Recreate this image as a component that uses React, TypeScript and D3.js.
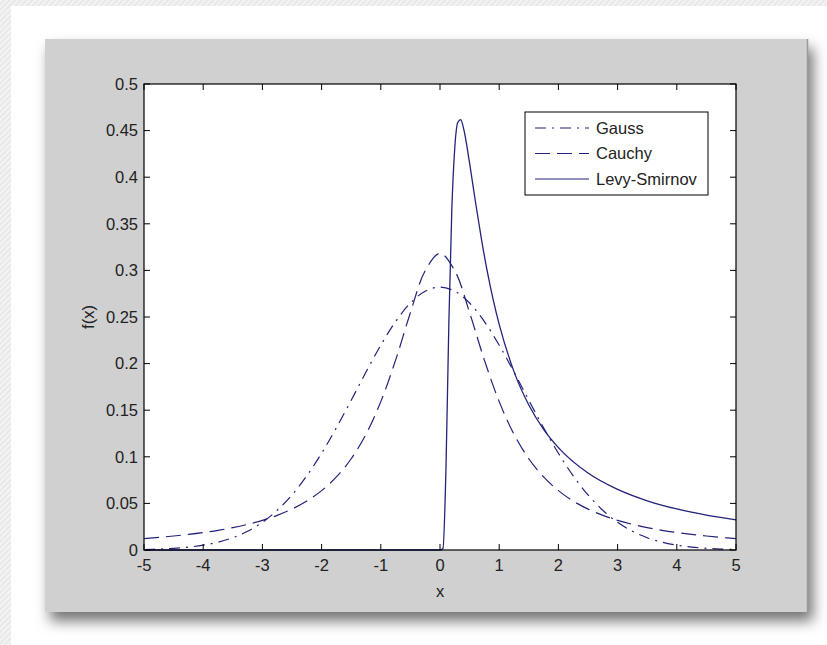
import React, { useEffect, useRef } from 'react';
import * as d3 from 'd3';

// x grid for the Gauss and Cauchy curves
const xGrid = [-5, -4.75, -4.5, -4.25, -4, -3.75, -3.5, -3.25, -3, -2.75, -2.5, -2.25, -2, -1.75, -1.5, -1.25, -1, -0.75, -0.5, -0.25,
  0, 0.25, 0.5, 0.75, 1, 1.25, 1.5, 1.75, 2, 2.25, 2.5, 2.75, 3, 3.25, 3.5, 3.75, 4, 4.25, 4.5, 4.75, 5];

const gaussY = [0.0005, 0.0010, 0.0018, 0.0031, 0.0052, 0.0084, 0.0132, 0.0201, 0.0297, 0.0426, 0.0591, 0.0796, 0.1038, 0.1312, 0.1607, 0.1909, 0.2197, 0.2451, 0.2650, 0.2777,
  0.2821, 0.2777, 0.2650, 0.2451, 0.2197, 0.1909, 0.1607, 0.1312, 0.1038, 0.0796, 0.0591, 0.0426, 0.0297, 0.0201, 0.0132, 0.0084, 0.0052, 0.0031, 0.0018, 0.0010, 0.0005];

const cauchyY = [0.0122, 0.0135, 0.0150, 0.0167, 0.0187, 0.0211, 0.0240, 0.0275, 0.0318, 0.0372, 0.0439, 0.0525, 0.0637, 0.0784, 0.0979, 0.1242, 0.1592, 0.2037, 0.2546, 0.2996,
  0.3183, 0.2996, 0.2546, 0.2037, 0.1592, 0.1242, 0.0979, 0.0784, 0.0637, 0.0525, 0.0439, 0.0372, 0.0318, 0.0275, 0.0240, 0.0211, 0.0187, 0.0167, 0.0150, 0.0135, 0.0122];

const levyX = [-5, 0, 0.05, 0.1, 0.15, 0.2, 0.25, 0.3, 0.35, 0.4, 0.5, 0.6, 0.7, 0.8, 0.9, 1, 1.25, 1.5, 1.75, 2, 2.5, 3, 3.5, 4, 4.5, 5];
const levyY = [0, 0, 0.0016, 0.0850, 0.2450, 0.3661, 0.4319, 0.4586, 0.4618, 0.4518, 0.4151, 0.3731, 0.3335, 0.2984, 0.2681, 0.2420, 0.1914, 0.1556, 0.1295, 0.1099, 0.0826, 0.0650, 0.0528, 0.0440, 0.0374, 0.0323];

const seriesNames = ['Gauss', 'Cauchy', 'Levy-Smirnov'];

const xTicks = [-5, -4, -3, -2, -1, 0, 1, 2, 3, 4, 5];
const yTicks = [0, 0.05, 0.1, 0.15, 0.2, 0.25, 0.3, 0.35, 0.4, 0.45, 0.5];
const yTickLabels = ['0', '0.05', '0.1', '0.15', '0.2', '0.25', '0.3', '0.35', '0.4', '0.45', '0.5'];

const App = () => {
  const svgRef = useRef<SVGSVGElement>(null);

  useEffect(() => {
    const svg = d3.select(svgRef.current);
    svg.selectAll('*').remove();

    const font = 'Liberation Sans, Arial, sans-serif';
    const lineColor = '#22237a';

    const defs = svg.append('defs');
    const pat = defs.append('pattern')
      .attr('id', 'hatch')
      .attr('width', 4).attr('height', 4)
      .attr('patternUnits', 'userSpaceOnUse')
      .attr('patternTransform', 'rotate(45)');
    pat.append('rect').attr('width', 4).attr('height', 4).attr('fill', '#e8e8e8');
    pat.append('rect').attr('width', 2).attr('height', 4).attr('fill', '#f4f4f4');

    const shadow = defs.append('filter')
      .attr('id', 'shadow')
      .attr('x', '-10%').attr('y', '-10%')
      .attr('width', '125%').attr('height', '125%');
    shadow.append('feDropShadow')
      .attr('dx', 5).attr('dy', 9)
      .attr('stdDeviation', 7)
      .attr('flood-color', '#000')
      .attr('flood-opacity', 0.55);

    // page background
    svg.append('rect').attr('width', 827).attr('height', 645).attr('fill', 'url(#hatch)');
    svg.append('rect').attr('x', 11).attr('y', 6).attr('width', 816).attr('height', 639).attr('fill', '#ffffff');

    // figure panel
    svg.append('rect')
      .attr('x', 45).attr('y', 39)
      .attr('width', 763).attr('height', 573)
      .attr('fill', '#d0d0d0')
      .attr('filter', 'url(#shadow)');
    svg.append('line')
      .attr('x1', 807.5).attr('x2', 807.5).attr('y1', 39).attr('y2', 612)
      .attr('stroke', '#9a9a9a').attr('stroke-width', 1.5);

    const margin = { left: 144, top: 84, right: 736, bottom: 550 };
    const x = d3.scaleLinear().domain([-5, 5]).range([margin.left, margin.right]);
    const y = d3.scaleLinear().domain([0, 0.5]).range([margin.bottom, margin.top]);

    svg.append('rect')
      .attr('x', margin.left).attr('y', margin.top)
      .attr('width', margin.right - margin.left)
      .attr('height', margin.bottom - margin.top)
      .attr('fill', '#ffffff');

    const g = svg.append('g');

    // curves
    const lineGen = d3.line<[number, number]>()
      .x(d => x(d[0]))
      .y(d => y(d[1]))
      .curve(d3.curveCatmullRom);

    const gaussPts = xGrid.map((v, i) => [v, gaussY[i]] as [number, number]);
    const cauchyPts = xGrid.map((v, i) => [v, cauchyY[i]] as [number, number]);
    const levyPts = levyX.map((v, i) => [v, levyY[i]] as [number, number]);

    g.append('path')
      .datum(gaussPts)
      .attr('fill', 'none')
      .attr('stroke', lineColor)
      .attr('stroke-width', 1.2)
      .attr('stroke-dasharray', '11,6,2,6')
      .attr('d', lineGen);

    g.append('path')
      .datum(cauchyPts)
      .attr('fill', 'none')
      .attr('stroke', lineColor)
      .attr('stroke-width', 1.2)
      .attr('stroke-dasharray', '15,7')
      .attr('d', lineGen);

    g.append('path')
      .datum(levyPts)
      .attr('fill', 'none')
      .attr('stroke', lineColor)
      .attr('stroke-width', 1.3)
      .attr('d', d3.line<[number, number]>()
        .x(d => x(d[0]))
        .y(d => y(d[1]))
        .curve(d3.curveMonotoneX));

    // axes box
    svg.append('rect')
      .attr('x', margin.left).attr('y', margin.top)
      .attr('width', margin.right - margin.left)
      .attr('height', margin.bottom - margin.top)
      .attr('fill', 'none')
      .attr('stroke', '#000')
      .attr('stroke-width', 1.2);

    const tickLen = 6;
    // x ticks (bottom and top, inward)
    xTicks.forEach(t => {
      svg.append('line')
        .attr('x1', x(t)).attr('x2', x(t))
        .attr('y1', margin.bottom).attr('y2', margin.bottom - tickLen)
        .attr('stroke', '#000');
      svg.append('line')
        .attr('x1', x(t)).attr('x2', x(t))
        .attr('y1', margin.top).attr('y2', margin.top + tickLen)
        .attr('stroke', '#000');
      svg.append('text')
        .attr('x', x(t)).attr('y', 571)
        .attr('text-anchor', 'middle')
        .attr('font-family', font)
        .attr('font-size', 16.5)
        .attr('fill', '#222')
        .text(String(t));
    });

    // y ticks (left and right, inward)
    yTicks.forEach((t, i) => {
      svg.append('line')
        .attr('x1', margin.left).attr('x2', margin.left + tickLen)
        .attr('y1', y(t)).attr('y2', y(t))
        .attr('stroke', '#000');
      svg.append('line')
        .attr('x1', margin.right).attr('x2', margin.right - tickLen)
        .attr('y1', y(t)).attr('y2', y(t))
        .attr('stroke', '#000');
      svg.append('text')
        .attr('x', margin.left - 6).attr('y', y(t))
        .attr('dy', '0.35em')
        .attr('text-anchor', 'end')
        .attr('font-family', font)
        .attr('font-size', 16.5)
        .attr('fill', '#222')
        .text(yTickLabels[i]);
    });

    // axis labels
    svg.append('text')
      .attr('x', (margin.left + margin.right) / 2).attr('y', 597)
      .attr('text-anchor', 'middle')
      .attr('font-family', font)
      .attr('font-size', 16.5)
      .attr('fill', '#222')
      .text('x');

    svg.append('text')
      .attr('transform', `translate(94, ${(margin.top + margin.bottom) / 2}) rotate(-90)`)
      .attr('text-anchor', 'middle')
      .attr('font-family', font)
      .attr('font-size', 16.5)
      .attr('fill', '#222')
      .text('f(x)');

    // legend
    const legend = svg.append('g').attr('transform', 'translate(525,112)');
    legend.append('rect')
      .attr('width', 183).attr('height', 83)
      .attr('fill', '#ffffff')
      .attr('stroke', '#000')
      .attr('stroke-width', 1);

    const dashes = ['11,6,2,6', '15,7', null];
    seriesNames.forEach((name, i) => {
      const ly = 16 + i * 25.5;
      legend.append('line')
        .attr('x1', 10).attr('x2', 64)
        .attr('y1', ly).attr('y2', ly)
        .attr('stroke', lineColor)
        .attr('stroke-width', 1.2)
        .attr('stroke-dasharray', dashes[i]);
      legend.append('text')
        .attr('x', 71).attr('y', ly)
        .attr('dy', '0.35em')
        .attr('font-family', font)
        .attr('font-size', 16.5)
        .attr('fill', '#222')
        .text(name);
    });
  }, []);

  return (
    <div style={{ position: 'absolute', left: 0, top: 0 }}>
      <svg ref={svgRef} width={827} height={645} style={{ display: 'block' }}></svg>
    </div>
  );
};

export default App;
